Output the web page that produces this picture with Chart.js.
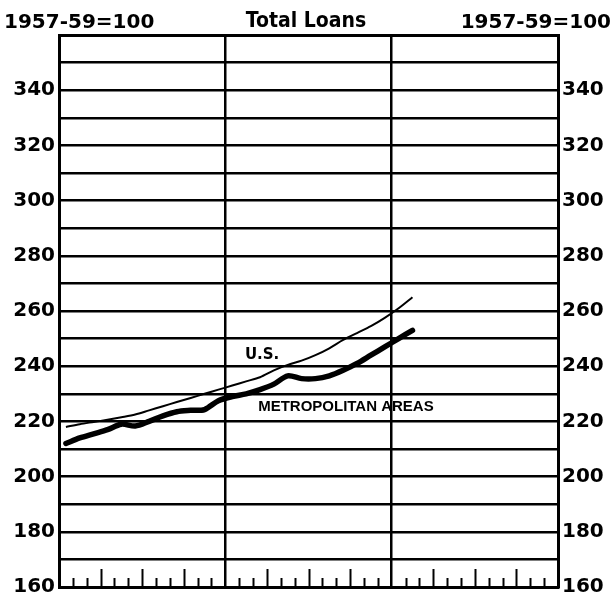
<!DOCTYPE html>
<html><head><meta charset="utf-8">
<script src="https://cdn.jsdelivr.net/npm/chart.js@4/dist/chart.umd.min.js"></script>
<style>html,body{margin:0;padding:0;background:#fff}#wrap{width:612px;height:592px;position:relative}</style>
</head><body><div id="wrap"><canvas id="c" width="612" height="592"></canvas></div>
<script>
// Data (monthly index, 1957-59 = 100)
const monthIndex = [0,1,2,3,4,5,6,7,8,9,10,11,12,13,14,15,16,17,18,19,20,21,22,23,24,25];
const usValues = [218,219,219.8,220.6,221.5,222.5,224,225.5,227,228.5,230,231.5,233,234.5,236,238.5,240.5,242,244,246.5,249.5,252,254.5,257.5,261,265];
const metroValues = [212,214,215.5,217,219,218.3,220,222,223.5,224,224.3,227.5,229,230,231.5,233.5,236.5,235.5,235.5,236.5,238.5,241,244,247,250,253];
const yTickLabels = [160,180,200,220,240,260,280,300,320,340];
const titleText = 'Total Loans';
const baseText = '1957-59=100';
const seriesNames = ['U.S.', 'METROPOLITAN AREAS'];
const totalMonths = 36;

const toPts = vals => vals.map((v, i) => ({x: monthIndex[i] + 0.5, y: v}));

const decor = {
  id: 'decor',
  afterDraw(chart) {
    const ctx = chart.ctx, xs = chart.scales.x, ys = chart.scales.y, a = chart.chartArea;
    ctx.save();
    // monthly tick marks rising from the bottom edge
    ctx.strokeStyle = '#000'; ctx.lineWidth = 2;
    for (let m = 1; m < totalMonths; m++) {
      if (m % 12 === 0) continue;
      const x = Math.round(xs.getPixelForValue(m)) + 0.5;
      const len = (m % 3 === 0) ? 18 : 9;
      ctx.beginPath(); ctx.moveTo(x, a.bottom); ctx.lineTo(x, a.bottom - len); ctx.stroke();
    }
    ctx.fillStyle = '#000';
    ctx.textBaseline = 'alphabetic';
    ctx.font = 'bold 20px "DejaVu Sans"';
    ctx.textAlign = 'left'; ctx.fillText(baseText, 4, 28);
    ctx.textAlign = 'right'; ctx.fillText(baseText, 611, 28);
    ctx.font = 'bold 21px "Liberation Sans Narrow", "DejaVu Sans Condensed", sans-serif';
    ctx.textAlign = 'center'; ctx.fillText(titleText, 306, 27);
    // series labels
    ctx.textBaseline = 'middle';
    ctx.font = 'bold 15px "DejaVu Sans"';
    ctx.fillText(seriesNames[0], xs.getPixelForValue(14.65), ys.getPixelForValue(244));
    ctx.font = 'bold 15px "Liberation Sans", sans-serif';
    ctx.fillText(seriesNames[1], xs.getPixelForValue(20.7), ys.getPixelForValue(225.2));
    ctx.restore();
  }
};

const yTicks = {
  stepSize: 10,
  autoSkip: false,
  color: '#000',
  padding: 4,
  font: {family: 'DejaVu Sans', size: 20, weight: 'bold'},
  callback: v => yTickLabels.includes(v) ? String(v) : ''
};
const fitY = w => s => { s.width = w; s.paddingTop = 0; s.paddingBottom = 0; };

new Chart(document.getElementById('c'), {
  type: 'line',
  data: {
    datasets: [
      {label: seriesNames[0], data: toPts(usValues), borderColor: '#000', borderWidth: 2, pointRadius: 0, tension: 0.3, fill: false},
      {label: seriesNames[1], data: toPts(metroValues), borderColor: '#000', borderWidth: 5.5, pointRadius: 0, tension: 0.3, fill: false, borderCapStyle: 'round'}
    ]
  },
  options: {
    responsive: false, animation: false, devicePixelRatio: 1,
    layout: {padding: {top: 35, bottom: 5, left: 0, right: 0}},
    plugins: {legend: {display: false}, tooltip: {enabled: false}, title: {display: false}},
    scales: {
      x: {
        type: 'linear', min: 0, max: totalMonths, position: 'bottom',
        ticks: {display: false, stepSize: 12},
        grid: {color: '#000', lineWidth: 2.5, drawTicks: false},
        border: {display: true, color: '#000', width: 3},
        afterFit: s => { s.height = 0; s.paddingLeft = 0; s.paddingRight = 0; }
      },
      y: {
        type: 'linear', min: 160, max: 360, position: 'left',
        ticks: yTicks,
        grid: {color: '#000', lineWidth: c => c.tick && c.tick.value === 360 ? 3 : 2.5, drawTicks: false},
        border: {display: true, color: '#000', width: 3},
        afterFit: fitY(59)
      },
      y2: {
        type: 'linear', min: 160, max: 360, position: 'right',
        ticks: yTicks,
        grid: {drawOnChartArea: false, drawTicks: false},
        border: {display: true, color: '#000', width: 3},
        afterFit: fitY(54)
      }
    }
  },
  plugins: [decor]
});
</script>
</body></html>
